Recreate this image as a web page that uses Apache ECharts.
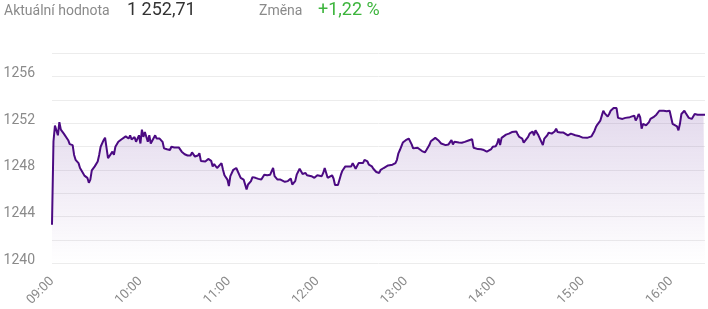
<!DOCTYPE html>
<html>
<head>
<meta charset="utf-8">
<script src="https://cdn.jsdelivr.net/npm/echarts@6/dist/echarts.min.js"></script>
<style>html,body{margin:0;padding:0;background:#fff}#c{width:708px;height:309px}</style>
</head>
<body>
<div id="c"></div>
<script>
// Header texts
const headerLabel = 'Aktuální hodnota';
const headerValue = '1 252,71';
const changeLabel = 'Změna';
const changeValue = '+1,22 %';

// X tick labels (hours)
const hourLabels = ['09:00','10:00','11:00','12:00','13:00','14:00','15:00','16:00'];
// Y tick labels shown
const yLabels = [1240, 1244, 1248, 1252, 1256];

// Minutes after 09:00
const minutes = [0,1,2,3,4,5,6,8,9,11,12,14,15,16,17,18,19,21,22,24,25,26,27,29,31,32,
33,35,36,38,39,41,42,43,45,47,48,50,52,53,54,56,57,59,60,61,62,63,65,66,67,68,70,71,73,75,76,78,80,81,83,84,86,88,90,92,94,95,97,99,100,
101,102,104,106,108,109,110,112,113,115,116,117,119,120,121,123,125,126,128,129,130,132,133,135,136,138,140,142,143,144,146,148,149,150,151,153,155,156,158,160,162,163,165,166,168,
169,170,172,173,176,178,180,181,183,184,185,187,188,190,191,192,194,195,196,197,199,201,203,204,205,206,208,209,211,212,214,215,217,218,220,222,223,225,226,228,229,231,232,233,234,235,
236,238,240,241,242,244,245,246,248,249,251,253,254,256,257,258,260,261,262,264,265,267,269,271,272,273,274,276,278,280,281,283,285,286,287,289,291,292,293,295,296,298,299,301,302,
303,304,305,306,308,310,312,313,315,316,317,319,320,321,323,324,326,327,328,330,331,333,334,336,337,339,341,342,343,345,347,348,350,352,355,356,358,360,361,363,364,366,367,368,
369,370,372,373,374,375,377,378,379,380,381,382,383,384,385,387,389,390,392,393,395,396,397,398,399,400,401,403,405,406,408,410,412,413,415,417,419,420,421,422,424,425,426,427,429,430,432,434,435,
436,438,440,442,443];

// Index values
const prices = [1243.31,1250.43,1251.80,1251.94,1250.96,1252.09,1251.44,1251.10,1250.96,1250.54,1250.20,1250.12,1249.28,1248.86,1248.72,1248.58,1248.16,1247.74,1247.51,1247.32,1246.90,1247.17,1247.96,1248.30,1248.72,1249.28,1249.98,1250.54,1250.76,1249.00,1249.14,1249.56,1249.28,1249.98,1250.40,1250.60,1250.68,1250.87,1250.68,1250.96,1250.60,1250.82,1250.40,1250.96,1250.26,1251.44,1250.82,1251.24,1250.40,1250.96,1250.26,1250.12,1250.96,1250.68,1250.68,1250.40,1249.84,1249.76,1249.70,1249.98,1249.92,1249.98,1249.92,1249.56,1249.34,1249.23,1249.23,1249.50,1249.14,1249.23,1249.42,1248.77,1248.86,1248.72,1248.94,1248.77,1248.30,1248.49,1248.16,1248.30,1248.58,1248.01,1247.54,1247.17,1246.62,1247.46,1248.01,1248.16,1248.01,1247.32,1247.46,1247.17,1246.33,1246.75,1247.04,1247.38,1247.32,1247.23,1247.17,1247.32,1247.59,1247.54,1247.59,1247.65,1248.16,1247.46,1247.17,1247.17,1247.09,1246.98,1247.04,1247.26,1246.75,1247.04,1247.59,1248.10,1247.93,1247.65,1247.74,1247.54,1247.46,1247.32,1247.54,1247.38,1247.46,1247.74,1248.16,1247.32,1247.38,1247.54,1247.26,1246.70,1246.70,1246.70,1247.59,1247.93,1248.30,1248.30,1248.30,1248.58,1248.44,1248.10,1248.58,1248.66,1248.58,1248.86,1248.72,1248.44,1248.30,1248.10,1247.82,1247.74,1248.01,1248.16,1248.30,1248.38,1248.30,1248.44,1248.30,1248.58,1248.86,1249.42,1249.70,1250.34,1250.54,1250.62,1250.68,1250.18,1249.84,1249.70,1249.90,1249.98,1249.61,1249.50,1249.70,1250.12,1250.45,1250.34,1250.74,1250.82,1250.54,1250.26,1250.12,1250.12,1250.18,1250.54,1250.18,1250.40,1250.34,1250.34,1250.32,1250.40,1250.49,1250.54,1250.62,1249.90,1249.78,1249.78,1249.76,1249.61,1249.70,1249.56,1249.70,1249.78,1249.98,1250.03,1250.26,1250.68,1250.12,1250.74,1250.91,1251.02,1251.10,1251.24,1251.10,1251.29,1251.02,1250.82,1250.68,1250.34,1250.40,1250.82,1251.10,1251.29,1250.96,1251.38,1250.96,1250.82,1250.12,1250.68,1250.96,1251.19,1251.10,1251.29,1251.52,1251.24,1251.19,1251.19,1251.02,1250.96,1251.10,1250.96,1250.82,1250.87,1250.76,1250.82,1250.74,1250.82,1250.87,1250.96,1251.33,1251.66,1251.88,1252.22,1252.64,1253.06,1252.84,1252.56,1252.78,1253.06,1253.12,1253.29,1253.20,1253.29,1252.45,1252.36,1252.36,1252.45,1252.45,1252.51,1252.36,1252.64,1252.22,1252.45,1252.78,1252.51,1251.52,1251.94,1251.80,1252.09,1252.36,1252.51,1252.72,1253.06,1253.12,1253.06,1253.01,1253.06,1252.93,1251.94,1251.88,1251.72,1251.38,1251.94,1252.78,1253.06,1252.84,1252.45,1252.36,1252.51,1252.78,1252.72,1252.72,1252.71,1252.71];

const yMin = 1240, yMax = 1258, yStep = 2;

const chart = echarts.init(document.getElementById('c'), null, {renderer: 'canvas'});
const seriesData = minutes.map((m, i) => [m, prices[i]]);
const fontFamily = 'Roboto, "Noto Sans", sans-serif';

chart.setOption({
  animation: false,
  grid: {left: 52, right: 3, top: 53, bottom: 42},
  graphic: [
    {type: 'text', left: 4, top: 4, style: {text: headerLabel, fill: '#8a8a8a', font: '14px ' + fontFamily}},
    {type: 'text', left: 127, top: 1, style: {text: headerValue, fill: '#333333', font: '18px ' + fontFamily}},
    {type: 'text', left: 259, top: 4, style: {text: changeLabel, fill: '#8a8a8a', font: '14px ' + fontFamily}},
    {type: 'text', left: 318, top: 1, style: {text: changeValue, fill: '#3db53d', font: '18px ' + fontFamily}}
  ],
  xAxis: {
    type: 'value',
    min: 0,
    max: minutes[minutes.length - 1],
    interval: 60,
    axisLine: {show: false},
    axisTick: {show: false},
    splitLine: {show: false},
    axisLabel: {
      rotate: 45,
      margin: 16,
      color: '#8a8a8a',
      fontSize: 13,
      fontFamily: fontFamily,
      showMaxLabel: false,
      formatter: v => (v % 60 === 0 && hourLabels[v / 60]) ? hourLabels[v / 60] : ''
    }
  },
  yAxis: {
    type: 'value',
    min: yMin,
    max: yMax,
    interval: yStep,
    axisLine: {show: false},
    axisTick: {show: false},
    splitLine: {lineStyle: {color: '#ececec', width: 1}},
    axisLabel: {
      color: '#8a8a8a',
      fontSize: 14,
      fontFamily: fontFamily,
      margin: 17,
      verticalAlign: 'bottom',
      lineHeight: 6,
      formatter: v => yLabels.indexOf(Math.round(v)) >= 0 ? String(Math.round(v)) : ''
    }
  },
  series: [{
    type: 'line',
    data: seriesData,
    showSymbol: false,
    smooth: false,
    lineStyle: {color: '#4b0a82', width: 2},
    areaStyle: {
      color: new echarts.graphic.LinearGradient(0, 0, 0, 1, [
        {offset: 0, color: 'rgba(110,60,160,0.28)'},
        {offset: 1, color: 'rgba(110,60,160,0.0)'}
      ])
    }
  }]
});
</script>
</body>
</html>
